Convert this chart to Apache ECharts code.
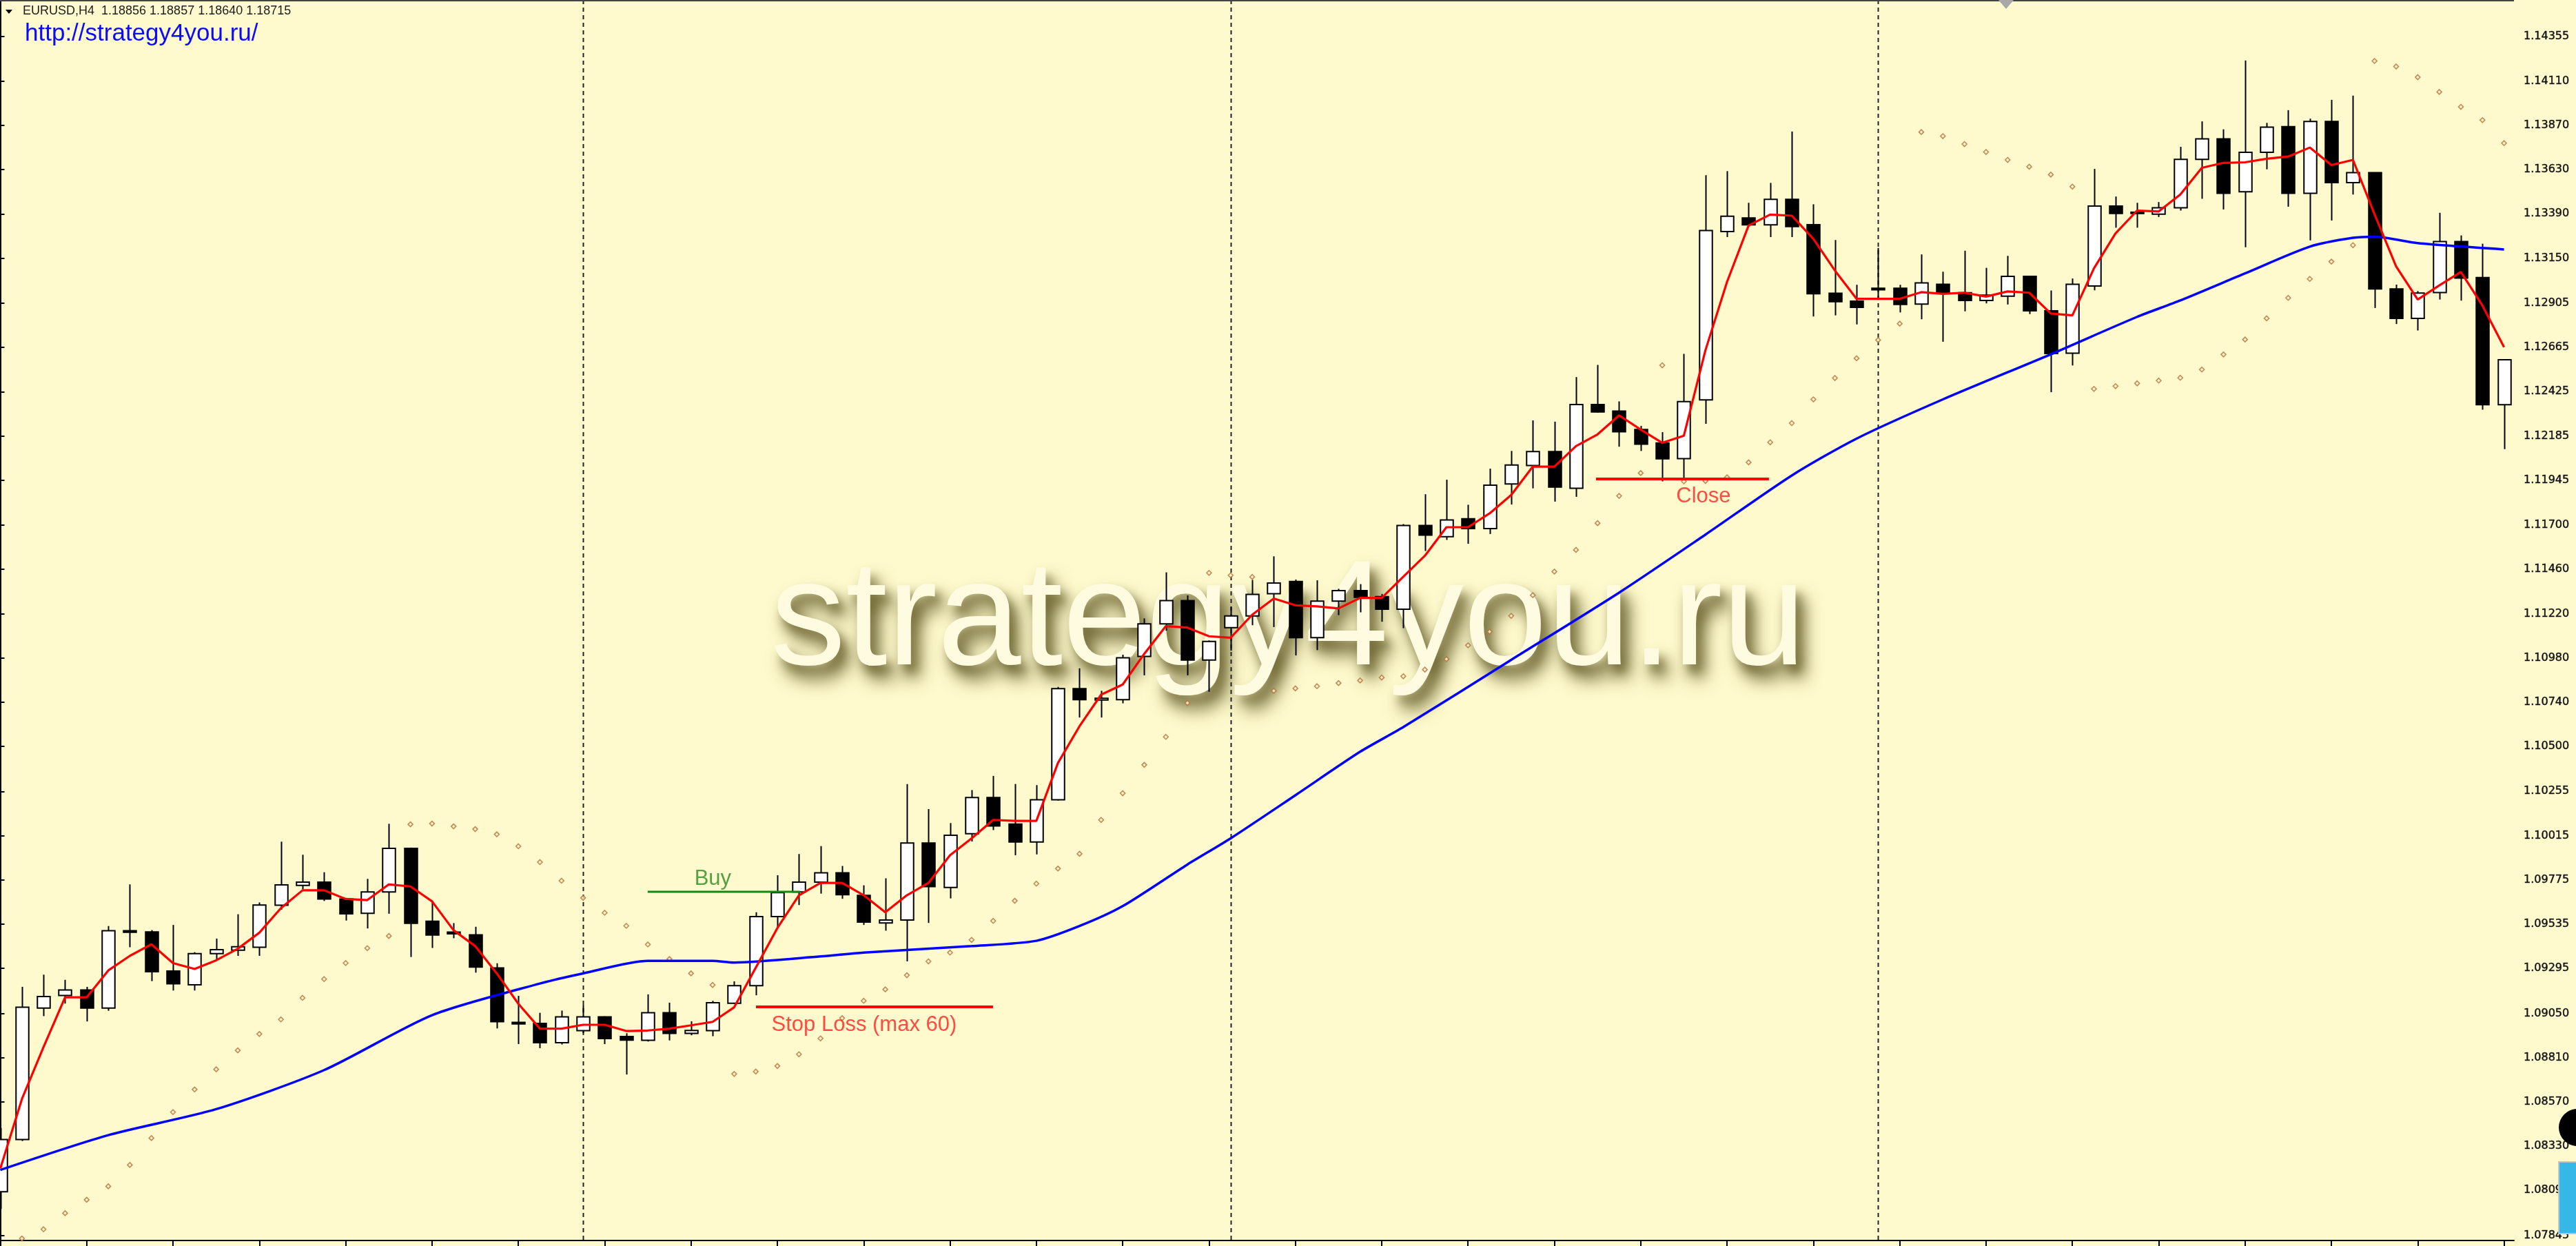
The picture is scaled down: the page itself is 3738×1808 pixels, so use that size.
<!DOCTYPE html>
<html>
<head>
<meta charset="utf-8">
<script src="https://cdn.jsdelivr.net/npm/echarts@6/dist/echarts.min.js"></script>
<style>
html,body{margin:0;padding:0;background:#FFFACD;}
#c{width:3738px;height:1808px;}
</style>
</head>
<body>
<div id="c"></div>
<script>
// ---------- DATA ----------
const tickLabels = ['1.14355','1.14110','1.13870','1.13630','1.13390','1.13150','1.12905','1.12665','1.12425','1.12185','1.11945','1.11700','1.11460','1.11220','1.10980','1.10740','1.10500','1.10255','1.10015','1.09775','1.09535','1.09295','1.09050','1.08810','1.08570','1.08330','1.08090','1.07845'];

const opens = [
1.08082,1.08365,1.09079,1.09147,1.09177,1.09079,1.09499,1.09492,1.09280,1.09205,
1.09374,1.09393,1.09409,1.09637,1.09745,1.09762,1.09671,1.09593,1.09709,1.09946,
1.09550,1.09491,1.09476,1.09297,1.09001,1.08995,1.08891,1.08956,1.09031,1.08924,
1.08904,1.09053,1.08941,1.08956,1.09105,1.09200,1.09575,1.09709,1.09762,1.09813,
1.09690,1.09541,1.09557,1.09975,1.09733,1.10025,1.10222,1.10078,1.09980,1.10209,
1.10813,1.10751,1.10753,1.10988,1.11164,1.11291,1.10968,1.11144,1.11207,1.11328,
1.11394,1.11090,1.11288,1.11345,1.11312,1.11244,1.11698,1.11638,1.11735,1.11682,
1.11924,1.12024,1.12100,1.11900,1.12355,1.12319,1.12219,1.12146,1.12061,1.12380,
1.13294,1.13368,1.13330,1.13469,1.13331,1.12959,1.12916,1.12986,1.12986,1.12900,
1.13008,1.12962,1.12920,1.12943,1.13051,1.12864,1.12634,1.12998,1.13432,1.13392,
1.13388,1.13423,1.13686,1.13797,1.13510,1.13724,1.13864,1.13502,1.13892,1.13560,
1.13614,1.12983,1.12823,1.12963,1.13240,1.13044,1.12354
];
const closes = [
1.08365,1.09083,1.09141,1.09177,1.09079,1.09499,1.09490,1.09276,1.09211,1.09374,
1.09396,1.09412,1.09638,1.09747,1.09762,1.09671,1.09590,1.09709,1.09946,1.09539,
1.09475,1.09482,1.09301,1.09005,1.08993,1.08891,1.09031,1.09031,1.08913,1.08905,
1.09053,1.08941,1.08957,1.09108,1.09200,1.09575,1.09705,1.09762,1.09813,1.09694,
1.09545,1.09557,1.09975,1.09738,1.10017,1.10222,1.10067,1.09980,1.10209,1.10813,
1.10753,1.10760,1.10980,1.11164,1.11291,1.10968,1.11069,1.11207,1.11324,1.11386,
1.11090,1.11288,1.11345,1.11308,1.11244,1.11698,1.11646,1.11728,1.11682,1.11917,
1.12027,1.12100,1.11907,1.12355,1.12315,1.12207,1.12140,1.12060,1.12371,1.13300,
1.13377,1.13330,1.13469,1.13321,1.12956,1.12913,1.12882,1.12978,1.12898,1.13015,
1.12962,1.12920,1.12949,1.13051,1.12864,1.12632,1.13008,1.13432,1.13392,1.13399,
1.13423,1.13686,1.13797,1.13502,1.13724,1.13861,1.13502,1.13892,1.13560,1.13614,
1.12983,1.12823,1.12960,1.13240,1.13041,1.12354,1.12598
];
const highs = [
1.08428,1.09194,1.09260,1.09232,1.09194,1.09524,1.09750,1.09502,1.09530,1.09382,
1.09456,1.09588,1.09652,1.09982,1.09911,1.09816,1.09675,1.09780,1.10079,1.09950,
1.09660,1.09540,1.09520,1.09322,1.09145,1.09053,1.09065,1.09096,1.09034,1.08942,
1.09153,1.09108,1.09007,1.09118,1.09224,1.09599,1.09800,1.09915,1.09958,1.09850,
1.09745,1.09783,1.10295,1.10159,1.10083,1.10262,1.10339,1.10295,1.10289,1.10822,
1.10923,1.10801,1.10997,1.11194,1.11444,1.11319,1.11074,1.11257,1.11403,1.11531,
1.11405,1.11401,1.11355,1.11380,1.11327,1.11706,1.11868,1.11947,1.11811,1.12007,
1.12103,1.12269,1.12262,1.12504,1.12570,1.12372,1.12239,1.12205,1.12630,1.13600,
1.13622,1.13450,1.13558,1.13837,1.13442,1.13248,1.13005,1.13205,1.13005,1.13170,
1.13076,1.13190,1.13097,1.13162,1.13051,1.12974,1.13039,1.13634,1.13484,1.13450,
1.13454,1.13754,1.13892,1.13849,1.14223,1.13884,1.13953,1.13907,1.14009,1.14032,
1.13614,1.13006,1.12971,1.13396,1.13273,1.13228,1.12598
];
const lows = [
1.07988,1.08357,1.09035,1.09103,1.09006,1.09064,1.09409,1.09225,1.09174,1.09174,
1.09338,1.09362,1.09362,1.09613,1.09723,1.09660,1.09554,1.09511,1.09591,1.09356,
1.09405,1.09458,1.09271,1.08968,1.08883,1.08861,1.08881,1.08943,1.08883,1.08718,
1.08897,1.08903,1.08931,1.08926,1.09100,1.09148,1.09515,1.09638,1.09700,1.09672,
1.09530,1.09499,1.09332,1.09541,1.09674,1.09983,1.10045,1.09908,1.09913,1.10205,
1.10656,1.10656,1.10733,1.10885,1.11127,1.10885,1.10796,1.11019,1.11157,1.11147,
1.10993,1.11022,1.11212,1.11227,1.11176,1.11141,1.11560,1.11620,1.11599,1.11652,
1.11812,1.11900,1.11828,1.11854,1.12311,1.12126,1.12103,1.11938,1.11943,1.12250,
1.13264,1.13321,1.13264,1.13264,1.12833,1.12839,1.12790,1.12923,1.12855,1.12818,
1.12696,1.12861,1.12904,1.12898,1.12846,1.12422,1.12567,1.12975,1.13315,1.13315,
1.13373,1.13408,1.13472,1.13414,1.13209,1.13632,1.13429,1.13246,1.13354,1.13495,
1.12879,1.12792,1.12757,1.12925,1.12919,1.12327,1.12113
];
// fast moving average (red)
const fastMA = [
1.08208,1.08585,1.08867,1.09137,1.09137,1.09283,1.09362,1.09425,1.09323,1.09291,
1.09338,1.09401,1.09488,1.09621,1.09718,1.09718,1.09671,1.09665,1.09750,1.09739,
1.09658,1.09501,1.09415,1.09267,1.09102,1.08967,1.08967,1.08988,1.08988,1.08954,
1.08957,1.08967,1.08985,1.09004,1.09083,1.09298,1.09513,1.09691,1.09758,1.09758,
1.09691,1.09599,1.09691,1.09758,1.09908,1.10000,1.10100,1.10095,1.10095,1.10409,
1.10609,1.10780,1.10835,1.11002,1.11152,1.11144,1.11097,1.11089,1.11214,1.11302,
1.11265,1.11259,1.11248,1.11305,1.11305,1.11420,1.11534,1.11689,1.11689,1.11764,
1.11864,1.12018,1.12018,1.12129,1.12193,1.12296,1.12219,1.12147,1.12186,1.12650,
1.13021,1.13327,1.13386,1.13380,1.13254,1.13082,1.12929,1.12929,1.12929,1.12965,
1.12956,1.12962,1.12941,1.12969,1.12962,1.12849,1.12839,1.13094,1.13284,1.13408,
1.13403,1.13495,1.13640,1.13667,1.13670,1.13689,1.13701,1.13750,1.13655,1.13683,
1.13388,1.13105,1.12925,1.13002,1.13075,1.12892,1.12666
];
// slow moving average (blue), read at these bar indices
const slowIdx = [0,5,10,15,20,25,27,30,33,34,38,40,45,48,50,52,55,57,60,63,65,70,75,79,83,86,90,95,99,101,104,107,109,110,112,116];
const slowVal = [1.08200,1.08389,1.08530,1.08742,1.09040,1.09212,1.09267,1.09335,1.09335,1.09326,1.09359,1.09380,1.09415,1.09444,1.09524,1.09632,1.09858,1.10000,1.10234,1.10470,1.10604,1.10969,1.11334,1.11649,1.11970,1.12170,1.12383,1.12628,1.12831,1.12920,1.13067,1.13212,1.13260,1.13266,1.13231,1.13197];
// parabolic SAR
const sar = [
null,1.07828,1.07878,1.07965,1.08038,1.08111,1.08227,1.08373,1.08514,1.08637,
1.08746,1.08849,1.08938,1.09017,1.09134,1.09236,1.09323,1.09404,1.09470,1.10076,
1.10080,1.10065,1.10050,1.10022,1.09957,1.09871,1.09770,1.09677,1.09596,1.09525,
1.09424,1.09345,1.09267,1.09204,1.08721,1.08734,1.08764,1.08828,1.08914,1.09024,
1.09118,1.09180,1.09257,1.09332,1.09380,1.09449,1.09552,1.09661,1.09754,1.09836,
1.09916,1.10100,1.10245,1.10399,1.10551,1.10735,1.11441,1.11428,1.11419,1.10801,
1.10814,1.10826,1.10843,1.10857,1.10873,1.10880,1.10916,1.10973,1.11048,1.11122,
1.11208,1.11320,1.11448,1.11566,1.11711,1.11859,1.11983,1.12568,1.11938,1.11940,
1.11960,1.12041,1.12150,1.12254,1.12383,1.12499,1.12606,1.12705,1.12794,1.13834,
1.13812,1.13769,1.13726,1.13683,1.13646,1.13603,1.13538,1.12440,1.12455,1.12470,
1.12485,1.12500,1.12545,1.12627,1.12708,1.12823,1.12934,1.13037,1.13131,1.13220,
1.14220,1.14190,1.14132,1.14052,1.13971,1.13899,1.13774
];
// week separators (bar index)
const weekStarts = [27, 57, 87];
// bottom axis ticks every 4 bars
const xTicks = [];
for (let i = 0; i <= 116; i += 4) xTicks.push(i);
// annotations
const buyLevel = 1.09710, buyFrom = 29.99, buyTo = 37.05;
const stopLevel = 1.09085, stopFrom = 35.01, stopTo = 45.99;
const closeLevel = 1.11951, closeFrom = 73.93, closeTo = 81.94;
const notes = [
  {text: 'Buy', x: 33.01, y: 1.09781, color: '#2a8a22'},
  {text: 'Stop Loss (max 60)', x: 40.02, y: 1.08988, color: '#ff1f1f'},
  {text: 'Close', x: 78.91, y: 1.11857, color: '#ff1f1f'}
];
const header = 'EURUSD,H4  1.18856 1.18857 1.18640 1.18715';
const siteUrl = 'http://strategy4you.ru/';
const watermark = 'strategy4you.ru';

// ---------- CHART ----------
const Y_MIN = 1.07817, Y_MAX = 1.14551;
const X_MIN = -0.016, X_MAX = 116.46;

const candleData = opens.map((o, i) => [i, o, closes[i], lows[i], highs[i]]);
const fastData = fastMA.map((v, i) => [i, v]);
const slowData = slowIdx.map((x, k) => [x, slowVal[k]]);
const sarData = sar.map((v, i) => [i, v]).filter(d => d[1] !== null);

function renderCandle(params, api) {
  const x = api.value(0), o = api.value(1), c = api.value(2), l = api.value(3), h = api.value(4);
  const pO = api.coord([x, o]), pC = api.coord([x, c]), pL = api.coord([x, l]), pH = api.coord([x, h]);
  const bw = 18.5;
  const cx = Math.round(pO[0]) + 0.5;
  const top = Math.min(pO[1], pC[1]), bot = Math.max(pO[1], pC[1]);
  const bull = c >= o;
  return {
    type: 'group',
    children: [
      {type: 'line', shape: {x1: cx, y1: pH[1], x2: cx, y2: pL[1]}, style: {stroke: '#000', lineWidth: 2}},
      {type: 'rect', shape: {x: cx - bw / 2, y: top, width: bw, height: Math.max(bot - top, 1)},
       style: {fill: bull ? '#ffffff' : '#000000', stroke: '#000', lineWidth: 2}}
    ]
  };
}
function renderSep(params, api) {
  const x = api.value(0);
  const p1 = api.coord([x, Y_MAX]), p2 = api.coord([x, Y_MIN]);
  const cx = Math.round(p1[0]) + 0.5;
  return {type: 'line', shape: {x1: cx, y1: p1[1], x2: cx, y2: p2[1]},
          style: {stroke: '#222', lineWidth: 2, lineDash: [6, 5]}};
}

const OFF = 6000; // draw shadow source off-canvas so only the blurred shadow lands on the chart
function shadowText(dx, dy, alpha, blur) {
  return {type: 'text', z: -20, style: {
    x: 1118 + dx - OFF, y: 904 + dy, text: watermark, font: '218px "Liberation Sans", Arial, sans-serif',
    fill: 'rgba(85,78,30,1)', verticalAlign: 'middle', align: 'left',
    shadowColor: 'rgba(92,85,32,' + alpha + ')', shadowBlur: blur, shadowOffsetX: OFF, shadowOffsetY: 0,
    textShadowColor: 'rgba(92,85,32,' + alpha + ')', textShadowBlur: blur, textShadowOffsetX: OFF, textShadowOffsetY: 0}};
}
const chart = echarts.init(document.getElementById('c'), null, {width: 3738, height: 1808});
chart.setOption({
  animation: false,
  backgroundColor: '#FFFACD',
  grid: {left: 0, right: 90, top: 0, bottom: 8, containLabel: false},
  xAxis: {
    type: 'value', min: X_MIN, max: X_MAX,
    axisLine: {show: true, onZero: false, lineStyle: {color: '#000', width: 2}},
    axisTick: {show: true, length: 8, customValues: xTicks, lineStyle: {color: '#000', width: 2}},
    axisLabel: {show: false},
    splitLine: {show: false}
  },
  yAxis: {
    type: 'value', position: 'right', min: Y_MIN, max: Y_MAX, scale: true,
    axisLine: {show: true, lineStyle: {color: '#000', width: 2}},
    axisTick: {show: true, length: 6, customValues: tickLabels.map(Number), lineStyle: {color: '#000', width: 2}},
    axisLabel: {
      show: true, customValues: tickLabels.map(Number), margin: 14,
      formatter: v => v.toFixed(5),
      fontFamily: 'DejaVu Sans', fontSize: 16, color: '#111',
      textBorderColor: '#333', textBorderWidth: 0.5
    },
    splitLine: {show: false}
  },
  graphic: [
    // watermark soft shadow (source off-canvas, shadow offset back into place)
    shadowText(12, 20, 0.9, 26),
    shadowText(8, 12, 0.55, 14),
    {type: 'text', z: -10, style: {
      x: 1118, y: 904, text: watermark, font: '218px "Liberation Sans", Arial, sans-serif',
      fill: '#fefbe0', verticalAlign: 'middle', align: 'left'}},
    {type: 'rect', z: 5, shape: {x: 0, y: 0, width: 3648, height: 2}, style: {fill: '#444'}},
    {type: 'polygon', z: 5, shape: {points: [[8, 14], [18, 14], [13, 20]]}, style: {fill: '#000'}},
    {type: 'text', z: 5, style: {x: 33, y: 16, text: header, font: '18px "Liberation Sans", Arial, sans-serif',
      fill: '#1c1c1c', verticalAlign: 'middle'}},
    {type: 'text', z: 5, style: {x: 36, y: 49, text: siteUrl, font: '35px "Liberation Sans", Arial, sans-serif',
      fill: '#0a0aff', verticalAlign: 'middle'}},
    {type: 'polygon', z: 5, shape: {points: [[2900, 0], [2922, 0], [2911, 13]]}, style: {fill: '#a8a8a8'}},
    {type: 'circle', z: 5, shape: {cx: 3740, cy: 1636, r: 27}, style: {fill: '#000'}},
    {type: 'rect', z: 5, shape: {x: 3713, y: 1686, width: 26, height: 104}, style: {fill: '#35b7e8', stroke: '#b8c8d0', lineWidth: 2}}
  ],
  series: [
    {type: 'custom', name: 'sep', z: 1, renderItem: renderSep, data: weekStarts.map(x => [x]),
     encode: {x: 0}, silent: true},
    {type: 'custom', name: 'candles', z: 3, renderItem: renderCandle, data: candleData,
     encode: {x: 0, y: [1, 2, 3, 4]}},
    {type: 'scatter', name: 'sar', z: 4, data: sarData, symbol: 'diamond', symbolSize: 7,
     itemStyle: {color: '#fff3c8', borderColor: '#b0703a', borderWidth: 1.6}},
    {type: 'line', name: 'slow', z: 5, data: slowData, showSymbol: false, smooth: 0.25,
     lineStyle: {color: '#0000ff', width: 3.5}},
    {type: 'line', name: 'fast', z: 6, data: fastData, showSymbol: false,
     lineStyle: {color: '#ff0000', width: 3.2}},
    {type: 'line', name: 'buy', z: 6, data: [[buyFrom, buyLevel], [buyTo, buyLevel]], showSymbol: false,
     lineStyle: {color: '#118a11', width: 3}},
    {type: 'line', name: 'stop', z: 6, data: [[stopFrom, stopLevel], [stopTo, stopLevel]], showSymbol: false,
     lineStyle: {color: '#ff0000', width: 4}},
    {type: 'line', name: 'close', z: 6, data: [[closeFrom, closeLevel], [closeTo, closeLevel]], showSymbol: false,
     lineStyle: {color: '#ff0000', width: 4}},
    {type: 'scatter', name: 'notes', z: 7, symbolSize: 0,
     data: notes.map(n => ({value: [n.x, n.y], label: {show: true, position: 'inside', formatter: n.text,
       color: n.color, fontSize: 31, fontFamily: '"Liberation Sans", Arial, sans-serif'}}))}
  ]
});
</script>
</body>
</html>
